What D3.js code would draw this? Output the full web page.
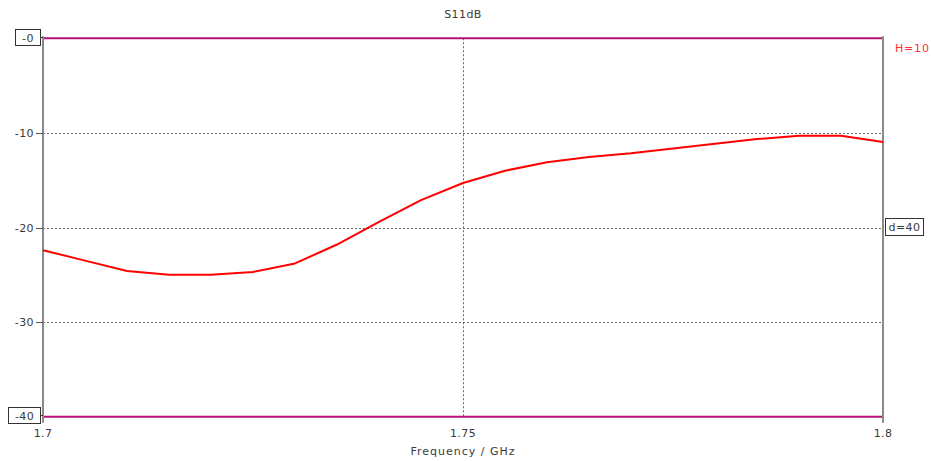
<!DOCTYPE html>
<html>
<head>
<meta charset="utf-8">
<script src="https://cdn.jsdelivr.net/npm/d3@7"></script>
<style>
  html, body { margin: 0; padding: 0; background: #fff; }
  svg text { font-family: "DejaVu Sans", Verdana, sans-serif; font-size: 11px; }
</style>
</head>
<body>
<svg id="chart" width="931" height="461"></svg>
<script>
// S11 magnitude (dB) versus frequency (GHz)
const freqGHz = [1.700, 1.705, 1.710, 1.715, 1.720, 1.725, 1.730, 1.735, 1.740, 1.745,
                 1.750, 1.755, 1.760, 1.765, 1.770, 1.775, 1.780, 1.785, 1.790, 1.795, 1.800];
const s11dB   = [-22.4, -23.5, -24.6, -25.0, -25.0, -24.7, -23.8, -21.8, -19.4, -17.1,
                 -15.3, -14.0, -13.1, -12.55, -12.15, -11.65, -11.15, -10.65, -10.3, -10.3, -10.95];
const xTicks = [1.7, 1.75, 1.8];
const xTickLabels = ["1.7", "1.75", "1.8"];
const yGrid = [-10, -20, -30];
const yGridLabels = ["-10", "-20", "-30"];
const yTop = 0, yBottom = -40;
const yTopLabel = "-0", yBottomLabel = "-40";

const svg = d3.select("#chart");
const plotL = 43, plotR = 883, plotT = 38.3, plotB = 416.7;

const x = d3.scaleLinear().domain([1.7, 1.8]).range([plotL, plotR]);
const y = d3.scaleLinear().domain([yBottom, yTop]).range([plotB, plotT]);

const gridColor = "#666", axisColor = "#8a8a8a", limitColor = "#b8127a";
const textColor = "#3a3a3a";

// dotted grid lines
svg.append("g").selectAll("line").data(yGrid).join("line")
  .attr("x1", plotL).attr("x2", plotR)
  .attr("y1", d => Math.round(y(d)) + 0.5).attr("y2", d => Math.round(y(d)) + 0.5)
  .attr("stroke", gridColor).attr("stroke-width", 1).attr("stroke-dasharray", "2,2");
svg.append("g").selectAll("line").data(xTicks.slice(1, -1)).join("line")
  .attr("x1", d => Math.round(x(d)) + 0.5).attr("x2", d => Math.round(x(d)) + 0.5)
  .attr("y1", plotT).attr("y2", plotB)
  .attr("stroke", gridColor).attr("stroke-width", 1).attr("stroke-dasharray", "2,2");

// left and right frame
[plotL, plotR].forEach(px => {
  svg.append("line").attr("x1", px).attr("x2", px)
    .attr("y1", plotT - 2).attr("y2", plotB + 6)
    .attr("stroke", axisColor).attr("stroke-width", 2);
});

// top and bottom limit lines
[yTop, yBottom].forEach(v => {
  svg.append("line").attr("x1", plotL + 1).attr("x2", plotR - 1)
    .attr("y1", y(v)).attr("y2", y(v))
    .attr("stroke", limitColor).attr("stroke-width", 2);
});

// y tick labels with small ticks
svg.append("g").selectAll("text").data(yGrid).join("text")
  .attr("x", 34).attr("y", d => y(d) + 4).attr("text-anchor", "end")
  .attr("fill", textColor).attr("letter-spacing", 0.4).text((d, i) => yGridLabels[i]);
svg.append("g").selectAll("line").data(yGrid).join("line")
  .attr("x1", 36).attr("x2", plotL).attr("y1", d => Math.round(y(d)) + 0.5).attr("y2", d => Math.round(y(d)) + 0.5)
  .attr("stroke", "#555");

// boxed limit labels
function boxLabel(bx, by, w, h, label, tickTo) {
  svg.append("rect").attr("x", bx).attr("y", by).attr("width", w).attr("height", h)
    .attr("fill", "#fff").attr("stroke", "#333").attr("stroke-width", 1);
  svg.append("text").attr("x", bx + w / 2).attr("y", by + h / 2 + 4)
    .attr("text-anchor", "middle").attr("fill", textColor).attr("letter-spacing", 0.4).text(label);
  if (tickTo != null) {
    svg.append("line").attr("x1", bx + w).attr("x2", tickTo)
      .attr("y1", by + h / 2).attr("y2", by + h / 2).attr("stroke", "#333");
  }
}
boxLabel(15.5, Math.round(y(yTop)) - 8.5, 25, 16, yTopLabel, plotL);
boxLabel(8.5, Math.round(y(yBottom)) - 9.5, 32, 16, yBottomLabel, plotL);
boxLabel(885.5, 218.5, 38, 17, "d=40", null);

// x tick labels
svg.append("g").selectAll("text").data(xTicks).join("text")
  .attr("x", d => x(d)).attr("y", 437).attr("text-anchor", "middle")
  .attr("fill", textColor).attr("letter-spacing", 0.4).text((d, i) => xTickLabels[i]);

// titles
svg.append("text").attr("x", x(1.75)).attr("y", 18).attr("text-anchor", "middle")
  .attr("fill", textColor).attr("letter-spacing", 0.4).text("S11dB");
svg.append("text").attr("x", x(1.75)).attr("y", 455).attr("text-anchor", "middle")
  .attr("fill", textColor).attr("letter-spacing", 1).text("Frequency / GHz");
svg.append("text").attr("x", 895).attr("y", 52).attr("fill", "#ff3030")
  .attr("letter-spacing", 0.8).text("H=10");

// trace
const line = d3.line().x((d, i) => x(freqGHz[i])).y(d => y(d));
svg.append("path").datum(s11dB).attr("d", line)
  .attr("fill", "none").attr("stroke", "#ff0000").attr("stroke-width", 2)
  .attr("stroke-linejoin", "round");
</script>
</body>
</html>
